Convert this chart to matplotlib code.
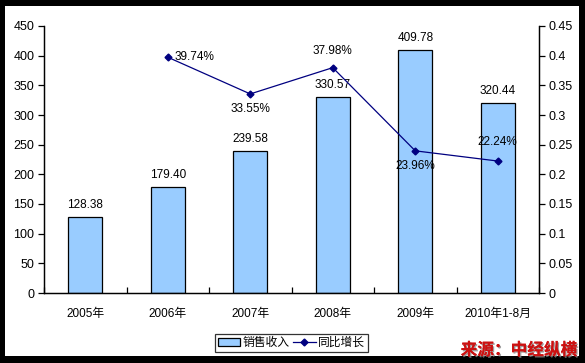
import matplotlib
matplotlib.use("Agg")
import matplotlib.pyplot as plt
import matplotlib.patches as mpatches
import matplotlib.patheffects as pe
import numpy as np

categories = ["2005年", "2006年", "2007年", "2008年", "2009年", "2010年1-8月"]
sales = [128.38, 179.40, 239.58, 330.57, 409.78, 320.44]
growth_cats = ["2006年", "2007年", "2008年", "2009年", "2010年1-8月"]
growth = [0.3974, 0.3355, 0.3798, 0.2396, 0.2224]
growth_labels = ["39.74%", "33.55%", "37.98%", "23.96%", "22.24%"]
left_ticks = [0, 50, 100, 150, 200, 250, 300, 350, 400, 450]
right_ticks = [0, 0.05, 0.1, 0.15, 0.2, 0.25, 0.3, 0.35, 0.4, 0.45]
right_tick_labels = ["0", "0.05", "0.1", "0.15", "0.2", "0.25", "0.3", "0.35", "0.4", "0.45"]

FONT = ["Liberation Sans", "Noto Sans CJK SC", "DejaVu Sans"]
plt.rcParams["font.family"] = FONT

W, H = 585, 363
fig = plt.figure(figsize=(W / 100, H / 100), dpi=100, facecolor="black")
# white plot area
fig.patches.append(mpatches.Rectangle((5 / W, (H - 356) / H), 574 / W, 350 / H,
                                      transform=fig.transFigure, facecolor="white",
                                      edgecolor="none", zorder=-10))

ax = fig.add_axes([44 / W, (H - 293) / H, (539 - 44) / W, (293 - 26) / H])
ax.set_facecolor("white")
ax2 = ax.twinx()

x = np.arange(len(categories))
bars = ax.bar(x, sales, width=0.41, color="#99CCFF", edgecolor="black", linewidth=0.9,
              label="销售收入", zorder=2)
ax.set_xlim(-0.5, len(categories) - 0.5)
ax.set_ylim(0, 450)
ax.set_yticks(left_ticks)
ax.set_yticklabels([str(t) for t in left_ticks])
ax.set_xticks(x)
ax.set_xticklabels(categories)
ax.set_xticks(np.arange(len(categories) + 1) - 0.5, minor=True)
ax.tick_params(axis="x", which="major", length=0, pad=11, labelsize=8.5)
ax.tick_params(axis="x", which="minor", length=4, direction="in", width=0.9)
ax.tick_params(axis="y", length=4, direction="out", width=0.9, labelsize=9, pad=3)

for xi, v in zip(x, sales):
    ax.annotate(f"{v:.2f}", (xi, v), xytext=(0, 4), textcoords="offset points",
                ha="center", va="bottom", fontsize=8.5)

gx = [categories.index(c) for c in growth_cats]
ax2.plot(gx, growth, color="#000080", linewidth=0.9, marker="D", markersize=3.5,
         label="同比增长", zorder=3)
ax2.set_ylim(0, 0.45)
ax2.set_yticks(right_ticks)
ax2.set_yticklabels(right_tick_labels)
ax2.tick_params(axis="y", length=4, direction="out", width=0.9, labelsize=9, pad=3)

offsets = [(5, 0, "left", "center"), (0, -11, "center", "center"), (0, 12, "center", "center"),
           (0, -11, "center", "center"), (0, 14, "center", "center")]
for xi, v, lab, (dx, dy, ha, va) in zip(gx, growth, growth_labels, offsets):
    ax2.annotate(lab, (xi, v), xytext=(dx, dy), textcoords="offset points",
                 ha=ha, va=va, fontsize=8.5)

for a in (ax, ax2):
    a.spines["top"].set_visible(False)
    for s in ("left", "right", "bottom"):
        a.spines[s].set_linewidth(0.9)
        a.spines[s].set_color("black")

h1, l1 = ax.get_legend_handles_labels()
h2, l2 = ax2.get_legend_handles_labels()
leg = fig.legend(h1 + h2, l1 + l2, loc="center", bbox_to_anchor=(291.5 / W, (H - 343) / H),
                 ncol=2, frameon=True, fancybox=False, fontsize=8.5, handlelength=1.9,
                 handleheight=0.6, columnspacing=0.3, handletextpad=0.2, borderpad=0.25,
                 borderaxespad=0)
leg.get_frame().set_edgecolor("black")
leg.get_frame().set_linewidth(0.9)

fig.text(577 / W, (H - 350) / H, "来源：中经纵横", ha="right", va="center", fontsize=12,
         fontweight="bold", color="#CC1111", family=["Noto Sans CJK SC", "DejaVu Sans"],
         path_effects=[pe.withSimplePatchShadow(offset=(1, -1), shadow_rgbFace="#888888", alpha=0.8),
                       pe.Normal()])

fig.savefig("out.png", dpi=100, facecolor=fig.get_facecolor())
